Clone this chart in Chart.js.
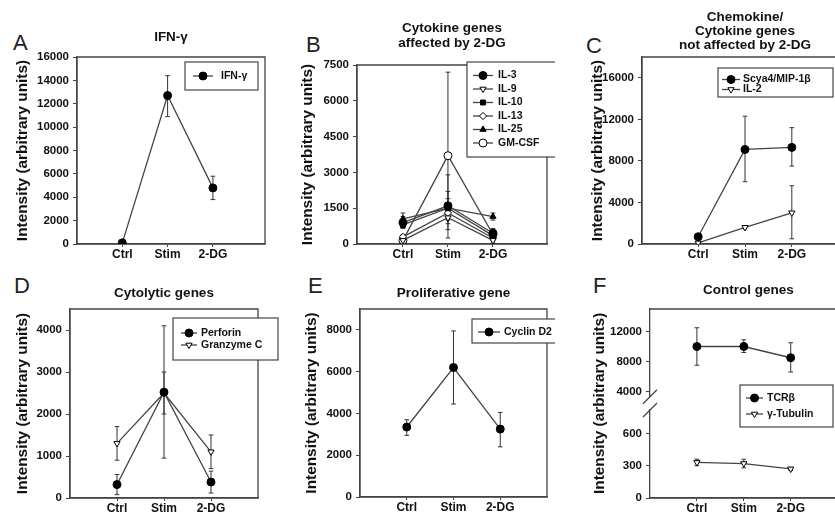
<!DOCTYPE html>
<html>
<head>
<meta charset="utf-8">
<script src="https://cdn.jsdelivr.net/npm/chart.js"></script>
<style>
  html, body { margin: 0; padding: 0; background: #fff; overflow: hidden; }
  body { width: 835px; height: 519px; position: relative; }
  .panel { position: absolute; }
  .letter { position: absolute; font: 22px "Liberation Sans", Arial, sans-serif; line-height: 22px; color: #222; }
</style>
</head>
<body>
<div class="letter" style="left:13px;top:32px">A</div>
<div class="letter" style="left:306px;top:34px">B</div>
<div class="letter" style="left:586px;top:35px">C</div>
<div class="letter" style="left:14px;top:275px">D</div>
<div class="letter" style="left:308px;top:275px">E</div>
<div class="letter" style="left:593px;top:275px">F</div>

<div class="panel" style="left:0;top:0;width:280px;height:272px"><canvas id="chartA"></canvas></div>
<div class="panel" style="left:280px;top:0;width:275px;height:272px"><canvas id="chartB"></canvas></div>
<div class="panel" style="left:555px;top:0;width:310px;height:272px"><canvas id="chartC"></canvas></div>
<div class="panel" style="left:0;top:262px;width:280px;height:257px"><canvas id="chartD"></canvas></div>
<div class="panel" style="left:280px;top:262px;width:275px;height:257px"><canvas id="chartE"></canvas></div>
<div class="panel" style="left:555px;top:262px;width:310px;height:257px"><canvas id="chartF"></canvas></div>

<script>
const categories = ['Ctrl', 'Stim', '2-DG'];

// A - IFN-gamma
const ifngMean = [100, 12700, 4800];
const ifngLow = [30, 10900, 3800];
const ifngHigh = [170, 14400, 5800];
const aTicks = [0, 2000, 4000, 6000, 8000, 10000, 12000, 14000, 16000];

// B - cytokine genes affected by 2-DG
const il3Mean = [900, 1600, 450];
const il3Low = [700, 1000, 300];
const il3High = [1150, 2200, 600];
const il9Mean = [150, 1100, 150];
const il9Low = [80, 850, 80];
const il9High = [250, 1350, 250];
const il10Mean = [800, 1500, 350];
const il10Low = [650, 1150, 250];
const il10High = [950, 1900, 500];
const il13Mean = [300, 1300, 250];
const il13Low = [200, 1050, 150];
const il13High = [400, 1550, 350];
const il25Mean = [1050, 1500, 1150];
const il25Low = [850, 600, 1000];
const il25High = [1300, 2900, 1300];
const gmcsfMean = [150, 3700, 400];
const gmcsfLow = [50, 250, 200];
const gmcsfHigh = [250, 7200, 650];
const bTicks = [0, 1500, 3000, 4500, 6000, 7500];

// C - chemokine/cytokine genes not affected by 2-DG
const scya4Mean = [700, 9100, 9300];
const scya4Low = [550, 6000, 7500];
const scya4High = [850, 12300, 11200];
const il2Mean = [100, 1600, 3000];
const il2Low = [50, 1450, 500];
const il2High = [150, 1750, 5600];
const cTicks = [0, 4000, 8000, 12000, 16000];

// D - cytolytic genes
const perforinMean = [320, 2520, 380];
const perforinLow = [80, 950, 120];
const perforinHigh = [560, 4100, 640];
const granzymeMean = [1300, 2500, 1100];
const granzymeLow = [900, 2000, 700];
const granzymeHigh = [1700, 3000, 1500];
const dTicks = [0, 1000, 2000, 3000, 4000];

// E - proliferative gene
const cyclinMean = [3350, 6200, 3250];
const cyclinLow = [2950, 4450, 2400];
const cyclinHigh = [3700, 7950, 4050];
const eTicks = [0, 2000, 4000, 6000, 8000];

// F - control genes (broken axis)
const tcrbMean = [10000, 10000, 8500];
const tcrbLow = [7500, 9200, 6600];
const tcrbHigh = [12500, 10900, 10500];
const tubulinMean = [330, 320, 270];
const tubulinLow = [300, 280, 255];
const tubulinHigh = [360, 360, 285];
const fTicksHigh = [4000, 8000, 12000];
const fTicksLow = [0, 300, 600];

const INK = '#111';
const LINE = '#444';
const FRAME = '#444';
const FAMILY = '"Liberation Sans", Arial, sans-serif';
Chart.defaults.font.family = FAMILY;
Chart.defaults.color = INK;

const filledCircle = {style: 'circle', fill: true, r: 4};
const openCircle = {style: 'circle', fill: false, r: 4};
const openDown = {style: 'triangle', rotation: 180, fill: false, r: 3.6};
const filledSquare = {style: 'rect', fill: true, r: 3.5};
const openDiamond = {style: 'rectRot', fill: false, r: 3.6};
const filledUp = {style: 'triangle', fill: true, r: 3.6};

function series(label, mean, low, high, marker, axis) {
  const yAxisID = axis || 'y';
  const sets = [{
    label: label,
    legend: true,
    data: mean.map((v, i) => ({x: i + 1, y: v})),
    borderColor: LINE,
    borderWidth: 1.3,
    pointStyle: marker.style,
    pointRotation: marker.rotation || 0,
    pointRadius: marker.r,
    pointBackgroundColor: marker.fill ? '#000' : '#fff',
    pointBorderColor: '#000',
    pointBorderWidth: 1,
    yAxisID: yAxisID,
    order: 1
  }];
  mean.forEach((v, i) => {
    sets.push({
      data: [{x: i + 1, y: low[i]}, {x: i + 1, y: high[i]}],
      borderColor: '#333',
      borderWidth: 1,
      pointStyle: 'line',
      pointRadius: 2.3,
      pointBorderColor: '#333',
      pointBorderWidth: 1,
      yAxisID: yAxisID,
      order: 2
    });
  });
  return sets;
}

function yScale(ticks, min, max, width, titlePad, extra) {
  return Object.assign({
    type: 'linear',
    position: 'left',
    min: min,
    max: max,
    afterBuildTicks: s => { s.ticks = ticks.map(v => ({value: v})); },
    afterFit: s => { s.width = width; },
    ticks: {font: {size: 11.5, weight: 'bold'}, color: INK, padding: 4, callback: v => String(v)},
    grid: {display: true, drawOnChartArea: false, drawTicks: true, tickLength: 4, color: FRAME, lineWidth: 1},
    border: {display: true, color: FRAME, width: 1.3},
    title: {display: true, text: 'Intensity (arbitrary units)', color: INK,
            font: {size: 15.4, weight: 'bold', lineHeight: 1.2}, padding: {top: titlePad, bottom: 0}}
  }, extra || {});
}

function xScale(min, max, height) {
  return {
    type: 'linear',
    min: min,
    max: max,
    afterBuildTicks: s => { s.ticks = categories.map((c, i) => ({value: i + 1})); },
    afterFit: s => { s.height = height; },
    ticks: {font: {size: 12, weight: 'bold'}, color: INK, padding: 0, maxRotation: 0, autoSkip: false,
            callback: v => categories[v - 1]},
    grid: {display: true, drawOnChartArea: false, drawTicks: true, tickLength: 3, color: FRAME, lineWidth: 1},
    border: {display: true, color: FRAME, width: 1.3}
  };
}

const framePlugin = {
  id: 'frame',
  beforeDatasetsDraw(chart, args, o) {
    const {left, top, right, bottom} = chart.chartArea;
    const ctx = chart.ctx;
    ctx.save();
    ctx.strokeStyle = FRAME;
    ctx.lineWidth = 1.3;
    ctx.beginPath();
    if (o.breakAxis) {
      ctx.moveTo(left, top);
      ctx.lineTo(right, top);
      ctx.lineTo(right, bottom);
      ctx.lineTo(left, bottom);
    } else {
      ctx.rect(left, top, right - left, bottom - top);
    }
    ctx.stroke();
    if (o.breakAxis) {
      const g = chart.scales[o.breakAxis];
      ctx.lineWidth = 1.2;
      [g.top, g.bottom].forEach(y => {
        ctx.beginPath();
        ctx.moveTo(left - 7, y + 7);
        ctx.lineTo(left + 7, y - 7);
        ctx.stroke();
      });
    }
    ctx.restore();
  }
};

const legendPlugin = {
  id: 'boxLegend',
  afterDraw(chart, args, o) {
    const ctx = chart.ctx;
    ctx.save();
    ctx.fillStyle = '#fff';
    ctx.fillRect(o.x, o.y, o.w, o.h);
    ctx.strokeStyle = FRAME;
    ctx.lineWidth = 1.2;
    ctx.strokeRect(o.x, o.y, o.w, o.h);
    ctx.font = 'bold 10.5px ' + FAMILY;
    ctx.textBaseline = 'middle';
    ctx.textAlign = 'left';
    chart.data.datasets.filter(d => d.legend).forEach((d, i) => {
      const y = o.row0 + i * o.step;
      ctx.strokeStyle = LINE;
      ctx.lineWidth = 1.3;
      ctx.beginPath();
      ctx.moveTo(o.lineX0, y);
      ctx.lineTo(o.lineX1, y);
      ctx.stroke();
      ctx.fillStyle = d.pointBackgroundColor;
      ctx.strokeStyle = '#000';
      ctx.lineWidth = 1;
      Chart.helpers.drawPoint(ctx, {pointStyle: d.pointStyle, rotation: d.pointRotation,
        radius: d.pointRadius, borderWidth: 1}, (o.lineX0 + o.lineX1) / 2, y);
      ctx.fillStyle = INK;
      ctx.fillText(d.label, o.textX, y);
    });
    ctx.restore();
  }
};

function makeChart(id, o) {
  return new Chart(document.getElementById(id), {
    type: 'line',
    data: {datasets: o.datasets},
    options: {
      responsive: true,
      maintainAspectRatio: false,
      animation: false,
      layout: {padding: {top: 0, left: 0, bottom: 0, right: o.padRight}},
      elements: {line: {tension: 0}},
      scales: o.scales,
      plugins: {
        legend: {display: false},
        tooltip: {enabled: false},
        title: {display: true, text: o.title, fullSize: false, color: INK,
                font: {size: 13.5, weight: 'bold', lineHeight: o.titleLine || '15px'},
                padding: {top: o.titleTop, bottom: o.titleBottom}},
        frame: o.frame || {},
        boxLegend: o.legend
      }
    },
    plugins: [framePlugin, legendPlugin]
  });
}

makeChart('chartA', {
  datasets: series('IFN-\u03b3', ifngMean, ifngLow, ifngHigh, filledCircle),
  scales: {x: xScale(0, 4.15, 28), y: yScale(aTicks, 0, 16000, 77, 13.5)},
  padRight: 15, title: 'IFN-\u03b3', titleTop: 29.5, titleBottom: 12.5,
  legend: {x: 185, y: 62, w: 73, h: 28, row0: 76, step: 0, lineX0: 193, lineX1: 213, textX: 221}
});

makeChart('chartB', {
  datasets: [].concat(
    series('IL-3', il3Mean, il3Low, il3High, filledCircle),
    series('IL-9', il9Mean, il9Low, il9High, openDown),
    series('IL-10', il10Mean, il10Low, il10High, filledSquare),
    series('IL-13', il13Mean, il13Low, il13High, openDiamond),
    series('IL-25', il25Mean, il25Low, il25High, filledUp),
    series('GM-CSF', gmcsfMean, gmcsfLow, gmcsfHigh, openCircle)
  ),
  scales: {x: xScale(-0.02, 4.2, 28), y: yScale(bTicks, 0, 7500, 77, 19)},
  padRight: 8, title: ['Cytokine genes', 'affected by 2-DG'], titleTop: 21, titleBottom: 14,
  legend: {x: 187, y: 62, w: 90, h: 95, row0: 75.5, step: 13.5, lineX0: 193, lineX1: 213, textX: 218}
});

makeChart('chartC', {
  datasets: [].concat(
    series('Scya4/MIP-1\u03b2', scya4Mean, scya4Low, scya4High, filledCircle),
    series('IL-2', il2Mean, il2Low, il2High, openDown)
  ),
  scales: {x: xScale(-0.2, 4.2, 28), y: yScale(cTicks, 0, 18000, 87, 34)},
  padRight: 17, title: ['Chemokine/', 'Cytokine genes', 'not affected by 2-DG'],
  titleLine: '14px', titleTop: 10, titleBottom: 5,
  legend: {x: 163, y: 68, w: 115, h: 29, row0: 79.5, step: 10, lineX0: 167, lineX1: 185, textX: 188}
});

makeChart('chartD', {
  datasets: [].concat(
    series('Perforin', perforinMean, perforinLow, perforinHigh, filledCircle),
    series('Granzyme C', granzymeMean, granzymeLow, granzymeHigh, openDown)
  ),
  scales: {x: xScale(0, 4, 21), y: yScale(dTicks, 0, 4500, 70, 13.5)},
  padRight: 22, title: 'Cytolytic genes', titleTop: 23.5, titleBottom: 8.5,
  legend: {x: 173, y: 56, w: 105, h: 42, row0: 71, step: 12, lineX0: 181, lineX1: 197, textX: 201}
});

makeChart('chartE', {
  datasets: series('Cyclin D2', cyclinMean, cyclinLow, cyclinHigh, filledCircle),
  scales: {x: xScale(0, 4, 22), y: yScale(eTicks, 0, 9000, 80, 22.5)},
  padRight: 8, title: 'Proliferative gene', titleTop: 23.5, titleBottom: 8.5,
  legend: {x: 192, y: 57, w: 88, h: 24, row0: 70, step: 0, lineX0: 198, lineX1: 220, textX: 224}
});

makeChart('chartF', {
  datasets: [].concat(
    series('TCR\u03b2', tcrbMean, tcrbLow, tcrbHigh, filledCircle, 'y'),
    series('\u03b3-Tubulin', tubulinMean, tubulinLow, tubulinHigh, openDown, 'yLow')
  ),
  scales: {
    x: xScale(0, 4.2, 21),
    y: yScale(fTicksHigh, 3300, 15000, 95, 0, {stack: 'f', stackWeight: 87.75, weight: 3, title: {display: false}}),
    yGap: {
      type: 'linear', position: 'left', min: 0, max: 1, stack: 'f', stackWeight: 13.25, weight: 2,
      afterFit: s => { s.width = 95; },
      ticks: {display: false}, grid: {display: false}, border: {display: false},
      title: {display: true, text: 'Intensity (arbitrary units)', color: INK,
              font: {size: 15.4, weight: 'bold', lineHeight: 1.2}, padding: {top: 36, bottom: 0}}
    },
    yLow: yScale(fTicksLow, 0, 817, 95, 0, {stack: 'f', stackWeight: 88, weight: 1, title: {display: false}})
  },
  padRight: 18, title: 'Control genes', titleTop: 20.5, titleBottom: 11.5,
  frame: {breakAxis: 'yGap'},
  legend: {x: 185, y: 123, w: 93, h: 42, row0: 136, step: 16, lineX0: 191, lineX1: 208, textX: 212}
});
</script>
</body>
</html>
